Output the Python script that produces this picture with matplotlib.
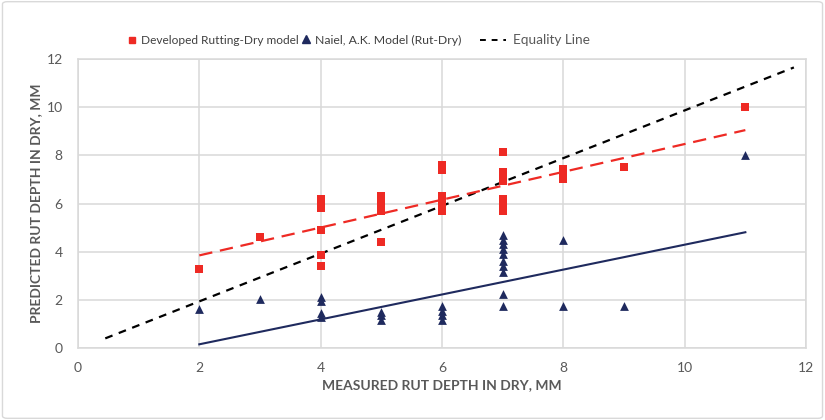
import matplotlib
matplotlib.use('Agg')
import matplotlib.pyplot as plt
from matplotlib.lines import Line2D
from matplotlib.patches import FancyBboxPatch
import numpy as np

plt.rcParams['font.family'] = ['Lato', 'DejaVu Sans']

# Developed Rutting-Dry model (measured, predicted)
dev_x = [2, 3, 4, 4, 4, 4, 4, 4, 5, 5, 5, 5, 5, 6, 6, 6, 6, 6, 6,
         7, 7, 7, 7, 7, 7, 7, 8, 8, 8, 9, 11]
dev_y = [3.3, 4.6, 6.2, 6.0, 5.8, 4.9, 3.85, 3.4, 6.3, 6.1, 5.9, 5.7, 4.4,
         7.6, 7.4, 6.3, 6.1, 5.9, 5.7,
         8.15, 7.3, 7.1, 6.95, 6.2, 5.95, 5.7, 7.45, 7.3, 7.0, 7.5, 10.0]

# Naiel, A.K. model (measured, predicted)
naiel_x = [2, 3, 4, 4, 4, 4, 5, 5, 5, 6, 6, 6, 6,
           7, 7, 7, 7, 7, 7, 7, 7, 7, 7, 8, 8, 9, 11]
naiel_y = [1.6, 2.05, 2.1, 1.95, 1.45, 1.3, 1.5, 1.35, 1.15,
           1.75, 1.55, 1.35, 1.15,
           4.7, 4.5, 4.3, 4.1, 3.9, 3.6, 3.4, 3.15, 2.25, 1.75,
           4.5, 1.75, 1.75, 8.0]

# linear trendlines (slope, intercept), drawn from x=2 to 11
dev_fit = (0.578, 2.69)
naiel_fit = (0.517, -0.88)
fit_range = [2, 11]

# equality line as drawn
eq_x = [0.45, 11.8]
eq_y = [0.4, 11.65]

red = '#EE2A24'
navy = '#1F2A5E'
grid_c = '#D9D9D9'
txt_c = '#595959'

fig = plt.figure(figsize=(8.25, 4.2), dpi=100)
ax = fig.add_axes([0.0945, 0.1714, 0.8825, 0.6881])

ax.grid(True, color=grid_c, lw=1.1)
ax.set_axisbelow(True)
for s in ax.spines.values():
    s.set_color(grid_c)
    s.set_linewidth(1.1)

fx = np.array(fit_range)
ax.plot(eq_x, eq_y, color='black', lw=1.6, ls=(0, (3.5, 3)))
ax.plot(fx, dev_fit[0] * fx + dev_fit[1], color=red, lw=1.6, ls=(0, (6, 3.5)))
ax.plot(fx, naiel_fit[0] * fx + naiel_fit[1], color=navy, lw=1.5)

ax.scatter(dev_x, dev_y, marker='s', s=26, color=red, lw=0, zorder=3)
ax.scatter(naiel_x, naiel_y, marker='^', s=40, color=navy, lw=0, zorder=3)

ax.set_xlim(0, 12)
ax.set_ylim(0, 12)
ax.set_xticks(range(0, 13, 2))
ax.set_yticks(range(0, 13, 2))
ax.tick_params(length=0, labelsize=10, labelcolor=txt_c)
ax.tick_params(axis='x', pad=10)
ax.tick_params(axis='y', pad=11)

ax.set_xlabel('MEASURED RUT DEPTH IN DRY, MM', fontsize=10, fontweight='bold',
              color=txt_c, labelpad=4)
ax.set_ylabel('PREDICTED RUT DEPTH IN DRY, MM', fontsize=10, fontweight='bold',
              color=txt_c, labelpad=3)

# legend row drawn by hand to keep the spacing of the original
W, H = 825, 420
ly = 1 - 40 / H
fig.add_artist(Line2D([132 / W], [ly], marker='s', markersize=5, color=red,
                      ls='none', transform=fig.transFigure))
fig.text(141 / W, ly, 'Developed Rutting-Dry model', fontsize=8.6, color='#404040',
         va='center', ha='left')
fig.add_artist(Line2D([306 / W], [ly + 0.002], marker='^', markersize=6, color=navy,
                      ls='none', transform=fig.transFigure))
fig.text(315 / W, ly, 'Naiel, A.K. Model (Rut-Dry)', fontsize=8.8, color='#404040',
         va='center', ha='left')
fig.add_artist(Line2D([480 / W, 506 / W], [ly, ly], color='black', lw=1.4,
                      ls=(0, (3, 3)), transform=fig.transFigure))
fig.text(513 / W, ly, 'Equality Line', fontsize=9.8, color=txt_c,
         va='center', ha='left')

fig.patches.append(FancyBboxPatch((0.003, 0.004), 0.994, 0.992, boxstyle='round,pad=0,rounding_size=0.006',
                                  transform=fig.transFigure, fill=False, ec=grid_c, lw=1))

fig.savefig('out.png', dpi=100)
